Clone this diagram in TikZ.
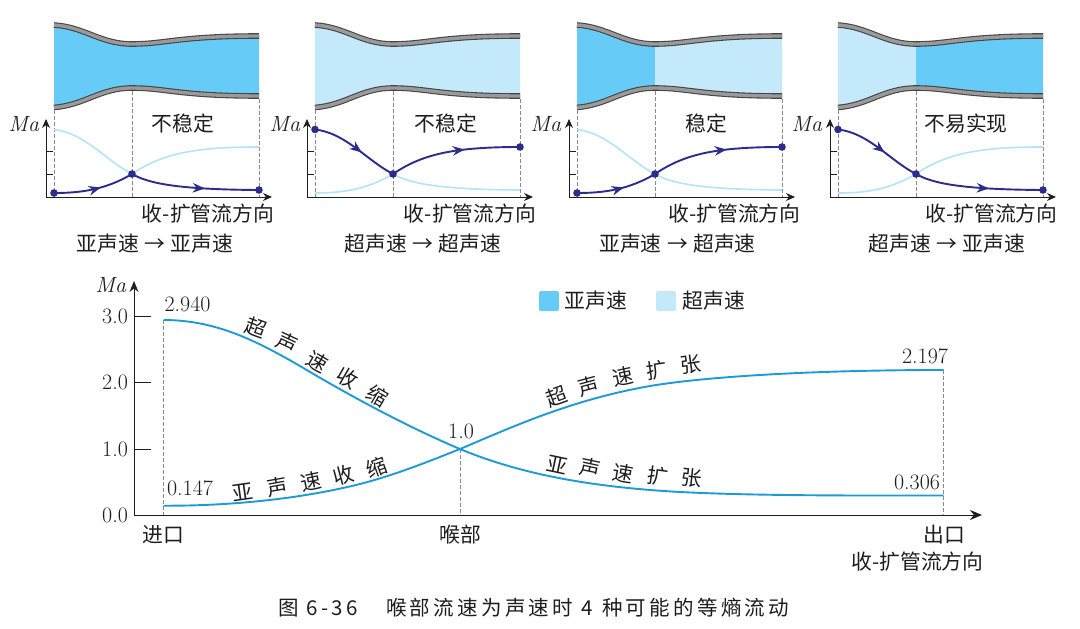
\documentclass[tikz,border=0pt]{standalone}
\usepackage{fontspec}
\usetikzlibrary{arrows.meta,decorations.markings}
\newfontfamily\cjk{Noto Sans CJK SC}
\newfontfamily\capfont[LetterSpace=16]{Noto Sans CJK SC}
\definecolor{subc}{HTML}{66CCF7}
\definecolor{supc}{HTML}{C3E9FB}
\definecolor{mainc}{HTML}{1E9BD7}
\definecolor{darkc}{HTML}{2B2C8C}
\definecolor{lightc}{HTML}{B5E4FA}
\definecolor{txt}{HTML}{1E1E1E}
\definecolor{wallc}{HTML}{9A9A9A}
\definecolor{walld}{HTML}{454545}
\definecolor{dashc}{HTML}{8A8A8A}
\newcommand\subL{(54,193) .. controls (80,193) and (105,190) .. (132,174)}
\newcommand\subR{(132,174) .. controls (148,183) and (175,189.5) .. (259,190)}
\newcommand\supL{(54,129.5) .. controls (85,133) and (105,160) .. (132,174)}
\newcommand\supR{(132,174) .. controls (160,155) and (190,147) .. (259,147)}
\newcommand\wallT{(54,25) .. controls (85,27) and (100,44) .. (132,44) .. controls (165,44) and (180,36) .. (259,36)}
\newcommand\wallB{(54,107.5) .. controls (85,105) and (100,88) .. (132,88) .. controls (165,88) and (180,96) .. (259,96)}
% #1 offset, #2 left fill, #3 right fill, #4 light left, #5 light right, #6 dark left, #7 dark right
\newcommand\panel[7]{%
\begin{scope}[shift={(#1,0)}]
\fill[#2] (54,25) .. controls (85,27) and (100,44) .. (132,44) -- (132,88) .. controls (100,88) and (85,105) .. (54,107.5) -- cycle;
\fill[#3] (132,44) .. controls (165,44) and (180,36) .. (259,36) -- (259,96) .. controls (180,96) and (165,88) .. (132,88) -- cycle;
\draw[line width=5.6pt,walld] \wallT;
\draw[line width=3.4pt,wallc] \wallT;
\draw[line width=5.6pt,walld] \wallB;
\draw[line width=3.4pt,wallc] \wallB;
\draw[guide] (54,110) -- (54,197);
\draw[guide] (132,91) -- (132,197);
\draw[guide] (259,99) -- (259,197);
\draw[axisline] (46,174) -- (53,174);
\draw[axisline] (46,151) -- (53,151);
\draw[axisline,-{Stealth[length=9pt,width=8pt]}] (46,197) -- (46,119);
\draw[axisline,-{Stealth[length=9pt,width=8pt]}] (46,197) -- (272,197);
\draw[lightline] #4;
\draw[lightline] #5;
\draw[darkline,flowmark] #6;
\draw[darkline,flowmark] #7;
\end{scope}}
\tikzset{
 x=1pt,y=-1pt,
 guide/.style={dash pattern=on 3.5pt off 2.5pt,dashc,line width=.8pt},
 axisline/.style={line width=1pt,txt},
 lightline/.style={line width=1.6pt,lightc},
 darkline/.style={line width=1.9pt,darkc},
 dotm/.style={fill=darkc,draw=none},
 flowmark/.style={postaction={decorate},decoration={markings,mark=at position .58 with {\arrow{Stealth[length=12pt,width=9.5pt]}}}},
 curve/.style={line width=1.9pt,mainc},
 lab/.style={inner sep=0pt,text=txt,font=\cjk\fontsize{20.8}{24}\selectfont},
 num/.style={inner sep=0pt,text=txt,font=\fontsize{22}{24}\selectfont},
 captxt/.style={inner sep=0pt,anchor=west,text=txt,font=\capfont\fontsize{20.5}{24}\selectfont},
}
\begin{document}
\begin{tikzpicture}
\useasboundingbox (0,0) rectangle (1080,629);
\fill[white] (0,0) rectangle (1080,629);
\panel{0}{subc}{subc}{\supL}{\supR}{\subL}{\subR}
\panel{261}{supc}{supc}{\subL}{\subR}{\supL}{\supR}
\panel{523}{subc}{supc}{\supL}{\subR}{\subL}{\supR}
\panel{784}{supc}{subc}{\subL}{\supR}{\supL}{\subR}
% dots
\foreach \o/\a/\b in {0/193/190,261/129.5/147,523/193/147,784/129.5/190}{
 \fill[dotm] (\o+54,\a) circle (3.8pt);
 \fill[dotm] (\o+132,174) circle (3.8pt);
 \fill[dotm] (\o+259,\b) circle (3.8pt);
}
% panel labels
\foreach \x in {24,285,546,807}{\node[num] at (\x,124) {\textit{Ma}};}
\node[lab] (s1) at (183,124) {不稳定};
\node[lab] (s2) at (446,124) {不稳定};
\node[lab] (s3) at (706,124) {稳定};
\node[lab] (s4) at (966,124) {不易实现};
\node[lab] (d1) at (208,214) {收-扩管流方向};
\node[lab] (d2) at (470,214) {收-扩管流方向};
\node[lab] (d3) at (734.5,214) {收-扩管流方向};
\node[lab] (d4) at (991.5,214) {收-扩管流方向};
\node[lab] (r1) at (155,244) {亚声速\hspace{5.5pt}→\hspace{5.5pt}亚声速};
\node[lab] (r2) at (423,244) {超声速\hspace{5.5pt}→\hspace{5.5pt}超声速};
\node[lab] (r3) at (677.5,244) {亚声速\hspace{5.5pt}→\hspace{5.5pt}超声速};
\node[lab] (r4) at (947,244) {超声速\hspace{5.5pt}→\hspace{5.5pt}亚声速};
% main chart
\draw[guide] (163.5,320) -- (163.5,515);
\draw[guide] (460,449) -- (460,515);
\draw[guide] (943.7,370) -- (943.7,515);
\foreach \y in {316.7,382.5,449}{\draw[axisline] (134,\y) -- (151,\y);}
\draw[axisline,-{Stealth[length=11pt,width=9pt]}] (134,515) -- (134,281);
\draw[axisline,-{Stealth[length=12pt,width=10pt]}] (134,515) -- (982,515);
\draw[curve] (163.5,320) .. controls (215,320) and (255,340) .. (300,366) .. controls (350,396) and (410,428) .. (460,449) .. controls (520,474) and (590,487) .. (680,492) .. controls (760,496) and (860,495.5) .. (943.7,495.5);
\draw[curve] (163.5,505.7) .. controls (230,506) and (300,499) .. (360,484) .. controls (395,475) and (430,461) .. (460,449) .. controls (510,428) and (570,400) .. (650,386) .. controls (710,376) and (820,370) .. (943.7,370);
\node[num] at (111,285) {\textit{Ma}};
\node[num] at (115,316) {3.0};
\node[num] at (115,382) {2.0};
\node[num] at (115,449) {1.0};
\node[num] at (115,515) {0.0};
\node[num] at (187.5,304) {2.940};
\node[num] at (190,488) {0.147};
\node[num] at (461,431) {1.0};
\node[num] at (925,356) {2.197};
\node[num] at (917,482) {0.306};
\node[lab] (in) at (163,535) {进口};
\node[lab] (th) at (460,535) {喉部};
\node[lab] (out) at (944,535) {出口};
\node[lab] (dir) at (917.5,562) {收-扩管流方向};
\foreach \c/\x/\y/\r in {超/256/328/-20,声/287/343/-25,速/317/362/-30,收/347/378/-30,缩/377/396/-30,
 亚/243/492/8,声/277/487/10,速/311/482/12,收/344/475/15,缩/377/467/20,
 超/557/397/20,声/589/386/15,速/623/377/12,扩/657/370/8,张/691/364/8,
 亚/557/465/-12,声/590/468/-12,速/623/473/-10,扩/658/476/-8,张/692/478/-6}{
 \node[lab,rotate=\r] at (\x,\y) {\c};
}
% legend
\fill[subc,rounded corners=2pt] (539,291) rectangle (559,311);
\fill[supc,rounded corners=2pt] (656,291) rectangle (676,311);
\node[lab] (l1) at (596,301) {亚声速};
\node[lab] (l2) at (714,301) {超声速};
% caption
\node[captxt] (c1) at (278,608) {图 6-36};
\node[captxt] (c2) at (386,608) {喉部流速为声速时};
\node[captxt] (c3) at (581,608) {4};
\node[captxt] (c4) at (602,608) {种可能的等熵流动};
\end{tikzpicture}
\end{document}
